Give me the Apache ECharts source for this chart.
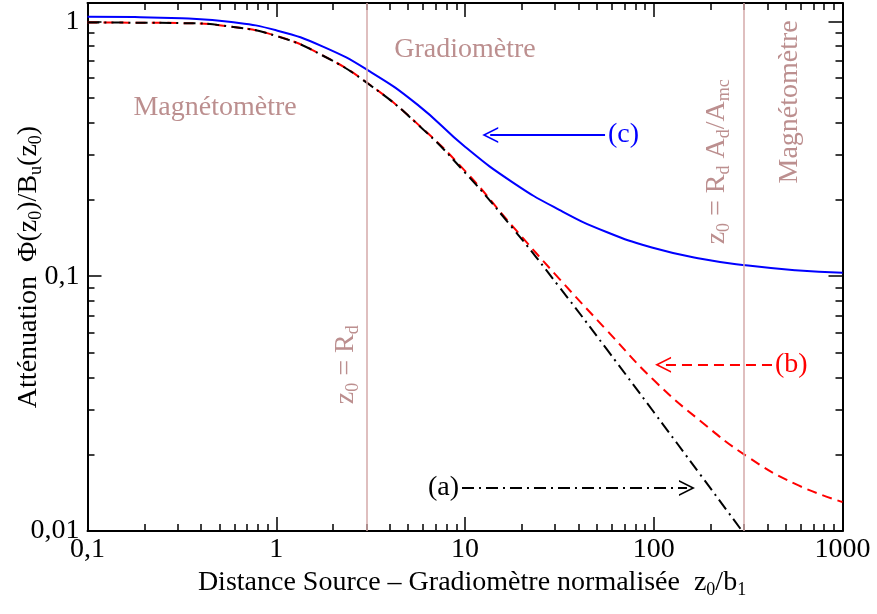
<!DOCTYPE html>
<html>
<head>
<meta charset="utf-8">
<title>Atténuation</title>
<script src="https://cdn.jsdelivr.net/npm/echarts@6/dist/echarts.min.js"></script>
<style>
  html, body { margin: 0; padding: 0; background: #fff; }
  #main { width: 877px; height: 614px; }
</style>
</head>
<body>
<div id="main"></div>
<script>
  // distance normalisée z0/b1
  var zValues = [0.1, 0.178, 0.316, 0.562, 1, 1.78, 3.16, 5.62, 10, 17.8, 31.6, 56.2, 100, 178, 316, 562, 1000];
  // courbe (c)
  var attC = [1.041, 1.039, 1.027, 0.996, 0.922, 0.794, 0.633, 0.470, 0.322, 0.234, 0.182, 0.149, 0.129, 0.117, 0.110, 0.1055, 0.1032];
  // courbe (b)
  var attB = [0.989, 0.988, 0.984, 0.955, 0.877, 0.732, 0.561, 0.395, 0.259, 0.1575, 0.0976, 0.0615, 0.0391, 0.0269, 0.0195, 0.0153, 0.0130];
  // courbe (a)
  var zA = [0.1, 0.178, 0.316, 0.562, 1, 1.78, 3.16, 5.62, 10, 17.8, 31.6, 56.2, 100, 178, 316];
  var attA = [0.989, 0.988, 0.984, 0.955, 0.876, 0.731, 0.560, 0.394, 0.255, 0.155, 0.0907, 0.0518, 0.0293, 0.0165, 0.0093];

  // graduations
  var xMajor = [0.1, 1, 10, 100, 1000];
  var xMinor = [0.2, 0.3, 0.4, 0.5, 0.6, 0.7, 0.8, 0.9, 2, 3, 4, 5, 6, 7, 8, 9,
                20, 30, 40, 50, 60, 70, 80, 90, 200, 300, 400, 500, 600, 700, 800, 900];
  var yMajor = [0.01, 0.1, 1];
  var yMinor = [0.02, 0.03, 0.04, 0.05, 0.06, 0.07, 0.08, 0.09, 0.2, 0.3, 0.4, 0.5, 0.6, 0.7, 0.8, 0.9];

  // limites
  var zRd = 3;
  var zRdA = 300;

  var FONT = 'Liberation Serif';
  var FS = 28;
  var ROSE = '#bc8f8f';
  var ROSE_LINE = '#d4aaaa';
  var chevron = 'path://M0,16 L8,0 L16,16 L14.2,16 L8,3.6 L1.8,16 Z';

  function sub(color) {
    return { fontFamily: FONT, fontSize: 18, color: color, padding: [15, 0, 0, 0] };
  }

  function pairs(xs, ys) {
    return xs.map(function (x, i) { return [x, ys[i]]; });
  }

  function logAxis(pos, min, max, ticks, len, main, labels) {
    return {
      type: 'log',
      logBase: 10,
      position: pos,
      min: min,
      max: max,
      axisLine: { show: main, onZero: false, lineStyle: { color: '#000', width: 2 } },
      axisTick: { show: true, inside: true, length: len, customValues: ticks, lineStyle: { color: '#000', width: 1.5 } },
      minorTick: { show: false },
      splitLine: { show: false },
      axisLabel: {
        show: labels,
        customValues: labels ? ticks : undefined,
        fontFamily: FONT,
        fontSize: FS,
        color: '#000',
        margin: 5,
        formatter: function (v) { return String(+v.toPrecision(6)).replace('.', ','); }
      }
    };
  }

  var xAxes = [
    logAxis('bottom', 0.1, 1000, xMajor, 14, true, true),
    logAxis('bottom', 0.1, 1000, xMinor, 7, false, false),
    logAxis('top', 0.1, 1000, xMajor, 14, true, false),
    logAxis('top', 0.1, 1000, xMinor, 7, false, false)
  ];
  xAxes[0].name = 'Distance Source – Gradiomètre normalisée  z{s|0}/b{s|1}';
  xAxes[0].nameLocation = 'middle';
  xAxes[0].nameGap = 35;
  xAxes[0].nameMoveOverlap = false;
  xAxes[0].nameTextStyle = { fontFamily: FONT, fontSize: FS, color: '#000', padding: [0, 0, 0, 14], rich: { s: sub('#000') } };

  var yAxes = [
    logAxis('left', 0.01, 1.18, yMajor, 14, true, true),
    logAxis('left', 0.01, 1.18, yMinor, 7, false, false),
    logAxis('right', 0.01, 1.18, yMajor, 14, true, false),
    logAxis('right', 0.01, 1.18, yMinor, 7, false, false)
  ];
  yAxes[0].axisLabel.margin = 8;
  yAxes[0].name = 'Atténuation  Φ(z{s|0})/B{s|u}(z{s|0})';
  yAxes[0].nameLocation = 'middle';
  yAxes[0].nameGap = 42;
  yAxes[0].nameMoveOverlap = false;
  yAxes[0].nameTextStyle = { fontFamily: FONT, fontSize: FS, color: '#000', rich: { s: sub('#000') } };

  function arrowLine(from, to, y, text, color) {
    return [
      { coord: [from, y], symbol: 'none',
        label: { show: true, position: 'start', formatter: text, distance: 3,
                 fontFamily: FONT, fontSize: FS, color: color } },
      { coord: [to, y], symbol: chevron, symbolSize: [16, 16] }
    ];
  }

  function arrowMark(item, color, dash) {
    return {
      silent: true,
      animation: false,
      symbol: ['none', chevron],
      symbolSize: 16,
      lineStyle: { color: color, width: 2, type: dash },
      data: [item]
    };
  }

  function textMark(coord, text, rotate) {
    return {
      coord: coord,
      value: 0,
      label: {
        show: true,
        position: 'inside',
        rotate: rotate,
        formatter: text,
        fontFamily: FONT,
        fontSize: FS,
        color: ROSE,
        rich: { s: sub(ROSE) }
      }
    };
  }

  var myChart = echarts.init(document.getElementById('main'));
  myChart.setOption({
    animation: false,
    backgroundColor: '#fff',
    grid: { left: 87.5, right: 34.5, top: 3, bottom: 83, outerBoundsMode: 'none' },
    xAxis: xAxes,
    yAxis: yAxes,
    series: [
      {
        // lignes verticales et textes
        type: 'line',
        data: [],
        markLine: {
          silent: true,
          animation: false,
          symbol: 'none',
          label: { show: false },
          lineStyle: { color: ROSE_LINE, width: 1.5, type: 'solid' },
          data: [{ xAxis: zRd }, { xAxis: zRdA }]
        },
        markPoint: {
          silent: true,
          animation: false,
          symbol: 'circle',
          symbolSize: 1,
          itemStyle: { color: 'rgba(0,0,0,0)' },
          data: [
            textMark([0.474, 0.457], 'Magnétomètre', 0),
            textMark([10, 0.773], 'Gradiomètre', 0),
            textMark([2.34, 0.0449], 'z{s|0} = R{s|d}', 90),
            textMark([216, 0.281], 'z{s|0} = R{s|d} A{s|d}/A{s|mc}', 90),
            textMark([527, 0.483], 'Magnétomètre', 90)
          ]
        }
      },
      {
        name: '(b)',
        type: 'line',
        smooth: true,
        symbol: 'none',
        data: pairs(zValues, attB),
        lineStyle: { color: '#ff0000', width: 2, type: [10, 6] },
        markLine: arrowMark(arrowLine(423, 112, 0.0449, '(b)', '#ff0000'), '#ff0000', [10, 6])
      },
      {
        name: '(a)',
        type: 'line',
        smooth: true,
        symbol: 'none',
        data: pairs(zA, attA),
        lineStyle: { color: '#000', width: 2, type: [12, 5, 2, 5] },
        markLine: arrowMark(arrowLine(9.64, 150, 0.01475, '(a)', '#000'), '#000', [12, 5, 2, 5])
      },
      {
        name: '(c)',
        type: 'line',
        smooth: true,
        symbol: 'none',
        data: pairs(zValues, attC),
        lineStyle: { color: '#0000ff', width: 2 },
        markLine: arrowMark(arrowLine(55.2, 13.6, 0.358, '(c)', '#0000ff'), '#0000ff', 'solid')
      }
    ]
  });
  window.addEventListener('resize', function () { myChart.resize(); });
</script>
</body>
</html>
